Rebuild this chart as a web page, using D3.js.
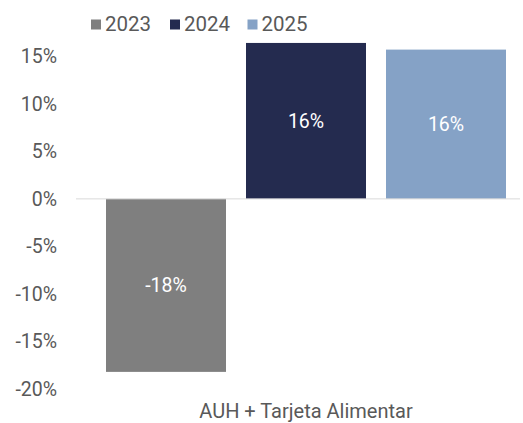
<!DOCTYPE html>
<html>
<head>
<meta charset="utf-8">
<script src="https://cdn.jsdelivr.net/npm/d3@7"></script>
<style>
  body { margin: 0; background: #fff; }
  text { font-family: Roboto, "Liberation Sans", sans-serif; }
</style>
</head>
<body>
<svg id="chart"></svg>
<script>
const categories = ['AUH + Tarjeta Alimentar'];
const years = ['2023', '2024', '2025'];
const values = [-18.2, 16.4, 15.7];
const colors = ['#7f7f7f', '#242b4f', '#85a2c6'];
const ticks = [-20, -15, -10, -5, 0, 5, 10, 15];

const width = 523,
      height = 423,
      margin = { top: 42, right: 0, bottom: 34, left: 76 };

const $chart = d3.select('#chart')
  .attr('width', width)
  .attr('height', height);

const y = d3.scaleLinear()
  .domain([-20, 16.5])
  .range([height - margin.bottom, margin.top]);

const x0 = d3.scaleBand()
  .domain(categories)
  .range([margin.left, 536]);

const x1 = d3.scaleBand()
  .domain(years)
  .range([30, x0.bandwidth() - 30])
  .paddingInner(1 / 7);

// y axis labels
$chart.append('g')
  .selectAll('text')
  .data(ticks)
  .enter()
  .append('text')
    .attr('x', 57)
    .attr('y', (d) => y(d))
    .attr('dy', '0.36em')
    .attr('text-anchor', 'end')
    .attr('fill', '#595959')
    .style('font-size', '19.5px')
    .text((d) => d + '%');

const data = years.map((yr, i) => ({ year: yr, value: values[i], color: colors[i] }));

const group = $chart.append('g')
  .attr('transform', `translate(${x0(categories[0])},0)`);

group.selectAll('rect')
  .data(data)
  .enter()
  .append('rect')
    .attr('x', (d) => x1(d.year))
    .attr('width', x1.bandwidth())
    .attr('y', (d) => y(Math.max(0, d.value)))
    .attr('height', (d) => Math.abs(y(d.value) - y(0)))
    .attr('fill', (d) => d.color);

group.selectAll('.label')
  .data(data)
  .enter()
  .append('text')
    .attr('class', 'label')
    .attr('x', (d) => x1(d.year) + x1.bandwidth() / 2)
    .attr('y', (d) => (y(d.value) + y(0)) / 2)
    .attr('dy', '0.36em')
    .attr('text-anchor', 'middle')
    .attr('fill', '#fff')
    .style('font-size', '19.5px')
    .text((d) => Math.round(d.value) + '%');

// zero line
$chart.append('line')
  .attr('x1', margin.left)
  .attr('x2', 520)
  .attr('y1', y(0))
  .attr('y2', y(0))
  .attr('stroke', '#d9d9d9')
  .attr('stroke-width', 1);

// category label
$chart.append('text')
  .attr('x', x0(categories[0]) + x0.bandwidth() / 2)
  .attr('y', 418)
  .attr('text-anchor', 'middle')
  .attr('fill', '#595959')
  .style('font-size', '20px')
  .text(categories[0]);

// legend
const legendX = [91, 170, 247.5];
const legend = $chart.append('g')
  .selectAll('g')
  .data(data)
  .enter()
  .append('g')
    .attr('transform', (d, i) => `translate(${legendX[i]},0)`);

legend.append('rect')
  .attr('x', 0)
  .attr('y', 19.5)
  .attr('width', 10)
  .attr('height', 10)
  .attr('fill', (d) => d.color);

legend.append('text')
  .attr('x', 14)
  .attr('y', 31)
  .attr('fill', '#595959')
  .style('font-size', '20.5px')
  .text((d) => d.year);
</script>
</body>
</html>
